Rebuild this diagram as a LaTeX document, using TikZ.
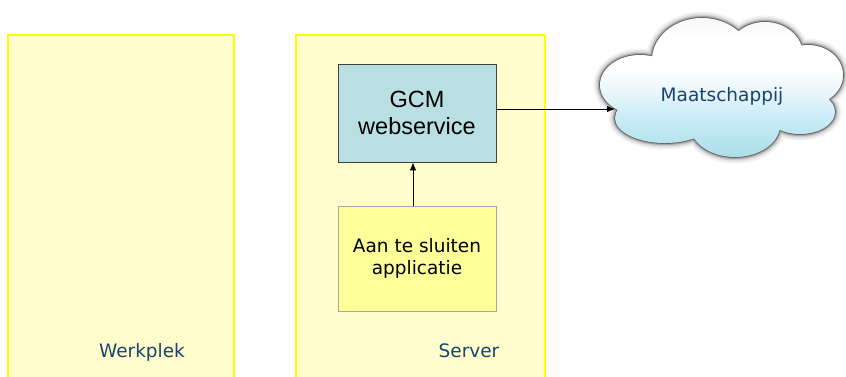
\documentclass[tikz,border=0pt]{standalone}
\usepackage{fontspec}
\setmainfont{DejaVu Sans}
\newfontfamily\arialfont{Liberation Sans}
\usetikzlibrary{arrows.meta}

\definecolor{panelfill}{RGB}{255,253,204}
\definecolor{panelline}{RGB}{255,255,0}
\definecolor{labelblue}{RGB}{23,69,112}
\definecolor{gcmfill}{RGB}{185,223,226}
\definecolor{appfill}{RGB}{255,255,153}
\definecolor{cloudA}{RGB}{172,222,234}
\definecolor{cloudB}{RGB}{198,235,245}
\definecolor{cloudC}{RGB}{228,244,249}
\definecolor{cloudD}{RGB}{246,247,248}

% vertical fill of the cloud: light blue at the bottom, white at the top
\pgfdeclareverticalshading{cloudsh}{100bp}{color(0bp)=(cloudA); color(25bp)=(cloudA);
  color(38bp)=(cloudB); color(47bp)=(cloudC); color(56bp)=(white); color(68bp)=(white);
  color(75bp)=(cloudD); color(100bp)=(cloudD)}

\tikzset{
  panel/.style={draw=panelline, fill=panelfill, line width=1.6pt, anchor=north west,
    minimum width=#1, minimum height=360pt, inner sep=0pt},
  panellabel/.style={text=labelblue, font=\fontsize{18.5}{22}\selectfont, anchor=base},
  gcmbox/.style={draw=black!75, fill=gcmfill, line width=0.8pt, minimum width=158pt,
    minimum height=98pt, align=center, font=\arialfont\fontsize{23.5}{27}\selectfont},
  appbox/.style={draw=black!35, fill=appfill, line width=0.8pt, minimum width=158pt,
    minimum height=105pt, align=center, font=\fontsize{18.5}{22}\selectfont},
  link/.style={draw=black, line width=1pt, -{Latex[length=8pt,width=6.5pt]}},
  cloudpath/.style={insert path={
    (702,60) ellipse [x radius=50pt, y radius=42pt]
    (765,55) ellipse [x radius=38pt, y radius=33pt]
    (808,75) ellipse [x radius=35pt, y radius=30pt]
    (800,112) ellipse [x radius=35pt, y radius=22pt]
    (735,125) ellipse [x radius=45pt, y radius=32pt]
    (665,118) ellipse [x radius=50pt, y radius=25pt]
    (640,85) ellipse [x radius=40pt, y radius=30pt]
    (720,88) ellipse [x radius=90pt, y radius=42pt]}}
}

\begin{document}
\begin{tikzpicture}[x=1pt, y=-1pt]
  \useasboundingbox (0,0) rectangle (846,376);
  \clip (0,0) rectangle (846,376);

  % the two columns
  \node[panel=226pt] (werkplek) at (7,34) {};
  \node[panel=249pt] (server) at (295,34) {};
  \node[panellabel] (werkpleklabel) at (142,357) {Werkplek};
  \node[panellabel] (serverlabel) at (469,357) {Server};

  % boxes inside the server
  \node[gcmbox] (gcm) at (417,113) {GCM\\webservice};
  \node[appbox] (app) at (417,258.5) {Aan te sluiten\\applicatie};

  % cloud: soft rim first, then the shaded body on top of it
  \path[cloudpath, draw=black!5, line width=13pt];
  \path[cloudpath, draw=black!11, line width=9.5pt];
  \path[cloudpath, draw=black!20, line width=6.5pt];
  \path[cloudpath, draw=black!35, line width=4pt];
  \path[cloudpath, draw=black!60, line width=1.8pt];
  \path[cloudpath, shade, shading=cloudsh];
  \node[text=labelblue, font=\fontsize{18.5}{22}\selectfont, anchor=base] (society) at (722,101.5) {Maatschappij};
  \coordinate (cloudin) at (615,109);

  % connectors
  \draw[link] ([xshift=-4pt]app.north) -- ([xshift=-4pt]gcm.south);
  \draw[link] (gcm.east |- cloudin) -- (cloudin);
\end{tikzpicture}
\end{document}
